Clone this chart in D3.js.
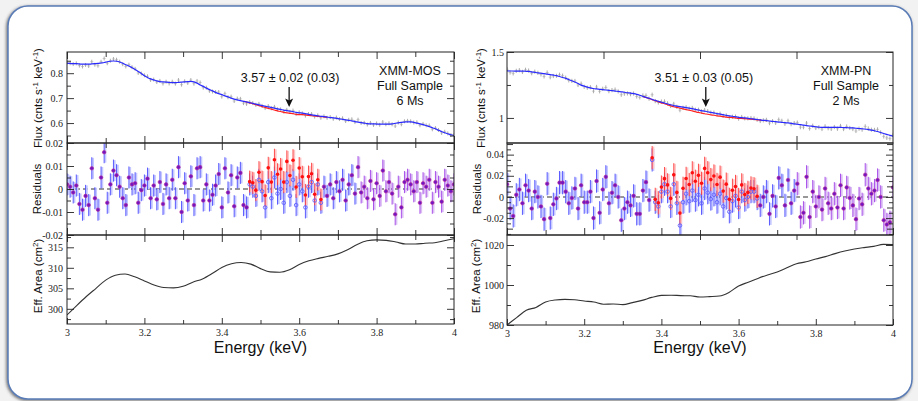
<!DOCTYPE html>
<html><head><meta charset="utf-8">
<script src="https://cdn.jsdelivr.net/npm/d3@7"></script>
<style>body{margin:0;background:#f2f2f2;}svg{display:block}</style>
</head><body>
<svg id="c" width="918" height="401"></svg>
<script>
// ---------------- DATA ----------------
const binEnergy = [
3.000,3.008,3.016,3.024,3.032,3.040,3.048,3.056,3.064,3.072,
3.080,3.088,3.096,3.104,3.112,3.120,3.128,3.136,3.144,3.152,
3.160,3.168,3.176,3.184,3.192,3.200,3.208,3.216,3.224,3.232,
3.240,3.248,3.256,3.264,3.272,3.280,3.288,3.296,3.304,3.312,
3.320,3.328,3.336,3.344,3.352,3.360,3.368,3.376,3.384,3.392,
3.400,3.408,3.416,3.424,3.432,3.440,3.448,3.456,3.464,3.472,
3.480,3.488,3.496,3.504,3.512,3.520,3.528,3.536,3.544,3.552,
3.560,3.568,3.576,3.584,3.592,3.600,3.608,3.616,3.624,3.632,
3.640,3.648,3.656,3.664,3.672,3.680,3.688,3.696,3.704,3.712,
3.720,3.728,3.736,3.744,3.752,3.760,3.768,3.776,3.784,3.792,
3.800,3.808,3.816,3.824,3.832,3.840,3.848,3.856,3.864,3.872,
3.880,3.888,3.896,3.904,3.912,3.920,3.928,3.936,3.944,3.952,
3.960,3.968,3.976,3.984,3.992,4.000];
const binWidth = 0.008;
const residUnit = 0.001;

// MOS: model flux (with line), residuals (milli), line profile, effective area
const mosFluxModel = [
0.840,0.839,0.838,0.838,0.837,0.836,0.836,0.836,0.837,0.838,
0.839,0.841,0.843,0.846,0.848,0.849,0.848,0.845,0.840,0.834,
0.829,0.822,0.815,0.807,0.799,0.790,0.783,0.777,0.773,0.769,
0.766,0.765,0.764,0.763,0.762,0.762,0.763,0.764,0.765,0.766,
0.767,0.765,0.760,0.753,0.747,0.740,0.734,0.729,0.723,0.718,
0.714,0.709,0.705,0.700,0.696,0.693,0.690,0.687,0.685,0.682,
0.679,0.676,0.673,0.670,0.668,0.665,0.663,0.660,0.657,0.655,
0.652,0.650,0.648,0.646,0.643,0.641,0.640,0.638,0.635,0.633,
0.631,0.629,0.627,0.626,0.624,0.622,0.621,0.619,0.617,0.615,
0.613,0.611,0.609,0.606,0.604,0.602,0.600,0.598,0.597,0.597,
0.596,0.596,0.596,0.596,0.596,0.597,0.599,0.601,0.603,0.604,
0.605,0.605,0.603,0.600,0.597,0.594,0.590,0.586,0.581,0.577,
0.571,0.566,0.561,0.557,0.553,0.550];
const mosResidMilli = [
2,1,-1.5,1.5,-6.5,-9,-3,-7,9,-4,
-9,5,16,-6,2,8,6,1,-4,-7,
5,2,2.5,-6,-0.5,1.5,4.5,-4,1.5,-4.5,
3,-6.5,2,-4,4,-4,9.5,-10,2.5,-5,
5.5,-7,9,9.5,-5,2,-5,-2.5,1.5,6.5,
-8,9,-1.5,6,-7.5,5,7,-7,-8,2,
1,-3,4,-1,-8,3,-4,5,-2,0,
-6,3,-3,4,-7,2,-1,-8,1,3,
-5,2,-6,1,-3,2,-4,3,-1,4,
-5,2,6,-2,9.5,-1.5,1,-4,3.5,-4.5,
2.5,-3,8,-1,3,-2,-11,1,-8,3,
4,2,-1,3,-6,2.5,1,4,-6,3,
1,-5.5,4,1.5,-1,2];
const mosLineStart = 57;
const mosLine = [0.0004,0.0007,0.0012,0.0017,0.0025,0.0033,0.0042,0.0052,0.0062,0.0070,
0.0077,0.0084,0.0087,0.0090,0.0090,0.0089,0.0085,0.0079,0.0071,0.0063,
0.0054,0.0044,0.0036,0.0027,0.0020,0.0014,0.0009,0.0005];
const mosResidErr = 0.0048;
const mosFluxErr = 0.008;

const pnFluxModel = [
1.357,1.356,1.356,1.355,1.355,1.355,1.354,1.353,1.350,1.346,
1.342,1.339,1.336,1.332,1.329,1.325,1.321,1.314,1.307,1.300,
1.291,1.282,1.272,1.261,1.249,1.241,1.234,1.228,1.223,1.220,
1.217,1.214,1.212,1.209,1.207,1.204,1.201,1.198,1.195,1.191,
1.188,1.184,1.179,1.172,1.164,1.156,1.149,1.141,1.133,1.126,
1.119,1.113,1.106,1.100,1.094,1.090,1.086,1.082,1.078,1.074,
1.070,1.065,1.060,1.056,1.051,1.047,1.042,1.038,1.033,1.029,
1.025,1.020,1.016,1.013,1.009,1.005,1.002,1.000,0.997,0.994,
0.991,0.988,0.985,0.982,0.980,0.977,0.974,0.972,0.969,0.967,
0.964,0.962,0.959,0.955,0.952,0.949,0.945,0.942,0.939,0.936,
0.933,0.930,0.928,0.928,0.928,0.928,0.928,0.928,0.928,0.927,
0.926,0.925,0.924,0.922,0.920,0.918,0.915,0.912,0.908,0.903,
0.897,0.890,0.882,0.875,0.868,0.862];
const pnResidMilli = [
12,-11,-18,2,7,-6,11,6,-11,5,
0,-9,-21,12.5,-20,-7,-1.5,13.5,13.5,5,
-6,-1,8,-11,11,-5,-5,5,-20,15,
-15,7,19,-6,4,11,0,-22,-11,-5,
-8,1,-16,-16,6,14,-3,35,-5,-9,
5,12,5,-9,12,-6,-27,-5,3,-4,
6,-3,2,-6,8,4,-2,2,-5,3,
-9,-1,-14,-4,1,-10,5,-3,0,5,
5,-1.5,-8,0,5,-16,1,-9,18,11,
-8,16,-6,6,12.5,-19,-15,19,-19,5,
-9,0,-12,8,-6,-11,3,-10,11,-11,
9,-1,-8,-21,-1.5,-7,21,8,3,6,
16,0,-22,-26,-24,9];
const pnLineStart = 44;
const pnLine = [0.0009,0.0012,0.0016,0.0021,0.0027,0.0035,0.0043,0.0053,0.0064,0.0076,
0.0089,0.0103,0.0117,0.0131,0.0145,0.0157,0.0168,0.0178,0.0184,0.0189,
0.0190,0.0189,0.0184,0.0178,0.0168,0.0157,0.0145,0.0131,0.0117,0.0103,
0.0089,0.0076,0.0064,0.0053,0.0043,0.0035,0.0027,0.0021,0.0016,0.0012,0.0009];
const pnResidErr = 0.011;
const pnFluxErr = 0.016;

const effEnergy = [3.000,3.025,3.050,3.075,3.100,3.125,3.150,3.175,3.200,3.225,
3.250,3.275,3.300,3.325,3.350,3.375,3.400,3.425,3.450,3.475,
3.500,3.525,3.550,3.575,3.600,3.625,3.650,3.675,3.700,3.725,
3.750,3.775,3.800,3.825,3.850,3.875,3.900,3.925,3.950,3.975,4.000];
const mosEffArea = [298.5,300.8,303.0,305.0,307.0,308.2,308.5,307.8,306.8,305.8,
305.2,305.1,305.5,306.5,307.3,308.6,310.1,311.0,311.3,310.9,
309.8,309.0,308.9,309.5,310.8,311.7,312.3,312.8,313.4,314.4,
315.7,316.6,316.8,316.7,316.3,315.8,315.8,316.0,316.1,316.6,317.1];
const pnEffArea = [980.0,983.7,987.4,988.8,991.5,992.5,992.8,992.6,992.0,991.5,
990.4,990.5,990.2,991.2,992.3,993.8,994.8,994.9,994.7,994.6,
994.0,994.2,994.5,996.3,999.5,1001.4,1003.3,1005.0,1006.5,1008.6,
1010.6,1011.6,1013.0,1014.2,1015.7,1017.0,1018.0,1018.7,1019.3,1020.3,1020.2];

const energyMajor = [3,3.2,3.4,3.6,3.8,4];
const energyMinor = [3.1,3.3,3.5,3.7,3.9];
const energyQuarter = [3.25,3.5,3.75];

const mosFluxTicks = [0.6,0.7,0.8], mosFluxMinor = [0.55,0.65,0.75,0.85];
const mosResTicks = [-0.02,-0.01,0,0.01,0.02], mosResMinor = [-0.015,-0.005,0.005,0.015];
const mosEffTicks = [300,305,310,315], mosEffMinor = [297.5,302.5,307.5,312.5,317.5];
const pnFluxTicks = [1,1.5], pnFluxMinor = [1.25];
const pnResTicks = [-0.02,0,0.02,0.04], pnResMid = [-0.03,-0.01,0.01,0.03,0.05];
const pnResMinor = [-0.035,-0.025,-0.015,-0.005,0.005,0.015,0.025,0.035,0.045];
const pnEffTicks = [980,1000,1020], pnEffMinor = [990,1010];

const mosLabel = ["XMM-MOS","Full Sample","6 Ms"];
const pnLabel = ["XMM-PN","Full Sample","2 Ms"];
const mosLineText = "3.57 \u00b1 0.02 (0.03)", mosLineE = 3.574;
const pnLineText = "3.51 \u00b1 0.03 (0.05)", pnLineE = 3.515;

// ---------------- DRAW ----------------
const SANS = "Liberation Sans, Arial, Helvetica, sans-serif";
const SERIF = "Liberation Serif, Times New Roman, serif";
const svg = d3.select("#c");
const defs = svg.append("defs");
const f = defs.append("filter").attr("id","sh").attr("x","-3%").attr("y","-3%").attr("width","106%").attr("height","106%");
f.append("feDropShadow").attr("dx",-1).attr("dy",1).attr("stdDeviation",1.8).attr("flood-color","#444").attr("flood-opacity",0.75);

svg.append("rect").attr("width",918).attr("height",401).attr("fill","#f2f2f2");
svg.append("rect").attr("x",8).attr("y",6).attr("width",904).attr("height",393).attr("rx",20)
  .attr("fill","#ffffff").attr("stroke","#5a7cb6").attr("stroke-width",1.5).attr("filter","url(#sh)");

function tickAxis(g, scale, orient, vals, len, pos, fmt, pad) {
  const fn = {bottom:d3.axisBottom, top:d3.axisTop, left:d3.axisLeft, right:d3.axisRight}[orient];
  const axis = fn(scale).tickValues(vals).tickSizeInner(-len).tickSizeOuter(0)
    .tickPadding(pad || 3).tickFormat(fmt || (() => ""));
  const tr = (orient === "bottom" || orient === "top") ? `translate(0,${pos})` : `translate(${pos},0)`;
  const a = g.append("g").attr("transform", tr).call(axis);
  a.select(".domain").remove();
  a.selectAll("line").attr("stroke","#222").attr("stroke-width",0.9);
  a.selectAll("text").attr("font-family",SERIF).attr("font-size",10).attr("fill","#222");
  return a;
}

function drawInstrument(o) {
  const g = svg.append("g");
  const x = d3.scaleLinear().domain([3,4]).range([o.left, o.right]);
  const T = 52, D1 = 143, D2 = 235, B = o.bottom;
  const yF = d3.scaleLinear().domain(o.fluxDomain).range([D1, T]);
  const yR = d3.scaleLinear().domain(o.resDomain).range([D2, D1]);
  const yE = d3.scaleLinear().domain(o.effDomain).range([B, D2]);

  const clip = (id, y0, y1) => {
    defs.append("clipPath").attr("id", id).append("rect")
      .attr("x", o.left).attr("y", y0).attr("width", o.right - o.left).attr("height", y1 - y0);
    return g.append("g").attr("clip-path", `url(#${id})`);
  };
  const gF = clip(o.id + "F", T, D1), gR = clip(o.id + "R", D1, D2), gE = clip(o.id + "E", D2, B);

  const pts = binEnergy.map((e, i) => {
    const li = i - o.lineStart;
    const l = (li >= 0 && li < o.line.length) ? o.line[li] : 0;
    const r = o.resid[i] * residUnit;
    return {e, i, l, r, rr: r + l, m: o.model[i], inWin: l > o.redThr, violet: e >= 3.75};
  });

  // ---- flux panel ----
  gF.selectAll(".fd").data(pts).join("line")
    .attr("x1", d => x(d.e)).attr("x2", d => x(d.e))
    .attr("y1", d => yF(d.m + d.r - o.fluxErr)).attr("y2", d => yF(d.m + d.r + o.fluxErr))
    .attr("stroke","#8a8a8a").attr("stroke-width",0.7);
  gF.selectAll(".fh").data(pts).join("line")
    .attr("x1", d => x(d.e - binWidth/2)).attr("x2", d => x(d.e + binWidth/2))
    .attr("y1", d => yF(d.m + d.r)).attr("y2", d => yF(d.m + d.r))
    .attr("stroke","#a0a0a0").attr("stroke-width",0.5);
  const win = pts.filter(d => d.i >= o.lineStart && d.i < o.lineStart + o.line.length);
  gF.append("path").datum(win)
    .attr("d", d3.line().x(d => x(d.e)).y(d => yF(d.m - d.l)).curve(d3.curveMonotoneX))
    .attr("fill","none").attr("stroke","#ff2020").attr("stroke-width",1.2);
  gF.append("path").datum(pts)
    .attr("d", d3.line().x(d => x(d.e)).y(d => yF(d.m)).curve(d3.curveMonotoneX))
    .attr("fill","none").attr("stroke","#2a2aff").attr("stroke-width",1.2);

  // ---- residual panel ----
  gR.append("line").attr("x1", o.left).attr("x2", o.right).attr("y1", yR(0)).attr("y2", yR(0))
    .attr("stroke","#333").attr("stroke-width",1.1).attr("stroke-dasharray","5,3");
  const er = o.resErr;
  gR.selectAll(".bb").data(pts).join("line")
    .attr("x1", d => x(d.e) + 1.2).attr("x2", d => x(d.e) + 1.2)
    .attr("y1", d => yR(d.r - er * 0.95)).attr("y2", d => yR(d.r + er * 0.95))
    .attr("stroke", d => d.violet ? "#dcc0f4" : "#c4c8ff").attr("stroke-width",2);
  gR.selectAll(".bl").data(pts).join("line")
    .attr("x1", d => x(d.e)).attr("x2", d => x(d.e))
    .attr("y1", d => yR(d.r - er)).attr("y2", d => yR(d.r + er))
    .attr("stroke", d => d.violet ? "#a040e8" : "#4a4aff").attr("stroke-width",0.9);
  const red = pts.filter(d => d.inWin);
  gR.selectAll(".rb").data(red).join("line")
    .attr("x1", d => x(d.e) + 1.2).attr("x2", d => x(d.e) + 1.2)
    .attr("y1", d => yR(d.rr - er * 0.95)).attr("y2", d => yR(d.rr + er * 0.95))
    .attr("stroke","#ffc4c4").attr("stroke-width",2);
  gR.selectAll(".rl").data(red).join("line")
    .attr("x1", d => x(d.e)).attr("x2", d => x(d.e))
    .attr("y1", d => yR(d.rr - er)).attr("y2", d => yR(d.rr + er))
    .attr("stroke","#ff3a3a").attr("stroke-width",0.9);
  gR.selectAll(".bc").data(red).join("circle")
    .attr("cx", d => x(d.e)).attr("cy", d => yR(d.r)).attr("r",1.8)
    .attr("fill","none").attr("stroke","#6060ff").attr("stroke-width",0.9);
  gR.selectAll(".rc").data(red).join("circle")
    .attr("cx", d => x(d.e)).attr("cy", d => yR(d.rr)).attr("r",1.8)
    .attr("fill","#ff1010");
  gR.selectAll(".pc").data(pts.filter(d => !d.inWin)).join("circle")
    .attr("cx", d => x(d.e)).attr("cy", d => yR(d.r)).attr("r",1.8)
    .attr("fill","#7014c4").attr("stroke","#c03090").attr("stroke-width",0.6);

  // ---- effective area ----
  gE.append("path").datum(o.eff)
    .attr("d", d3.line().x((d, i) => x(effEnergy[i])).y(d => yE(d)).curve(d3.curveMonotoneX))
    .attr("fill","none").attr("stroke","#333").attr("stroke-width",1.1);

  // ---- frames & ticks ----
  [[T, D1], [D1, D2], [D2, B]].forEach(([a, b]) => {
    g.append("rect").attr("x", o.left).attr("y", a).attr("width", o.right - o.left).attr("height", b - a)
      .attr("fill","none").attr("stroke","#222").attr("stroke-width",1);
  });
  const xfmt = d => String(+d.toFixed(1));
  const xTop = o.quarterFlux ? [[energyQuarter, 7]] : [[energyMajor, 7], [energyMinor, 5]];
  xTop.forEach(([v, l]) => { tickAxis(g, x, "top", v, l, T); tickAxis(g, x, "bottom", v, l, D1); });
  xTop.forEach(([v, l]) => tickAxis(g, x, "top", v, l, D1));
  [[energyMajor, 7], [energyMinor, 5]].forEach(([v, l]) => tickAxis(g, x, "bottom", v, l, D2));
  (o.quarterFlux ? [[energyQuarter, 5]] : [[energyMajor, 7], [energyMinor, 5]])
    .forEach(([v, l]) => tickAxis(g, x, "top", v, l, D2));
  tickAxis(g, x, "bottom", energyMinor, 4, B);
  tickAxis(g, x, "bottom", energyMajor, 6, B, xfmt, 5);

  const yAx = (scale, major, minor, fmt, mid) => {
    tickAxis(g, scale, "left", major, 7, o.left, fmt, o.ypad);
    tickAxis(g, scale, "right", major, 7, o.right);
    if (mid) { tickAxis(g, scale, "left", mid, 6, o.left); tickAxis(g, scale, "right", mid, 6, o.right); }
    tickAxis(g, scale, "left", minor, 4, o.left);
    tickAxis(g, scale, "right", minor, 4, o.right);
  };
  yAx(yF, o.fluxTicks, o.fluxMinor, d => String(d));
  yAx(yR, o.resTicks, o.resMinor, d => d === 0 ? "0" : d.toFixed(2), o.resMid);
  yAx(yE, o.effTicks, o.effMinor, d => String(d));

  const vt = (cx, cy) => g.append("text").attr("transform", `translate(${cx},${cy}) rotate(-90)`)
    .attr("text-anchor","middle").attr("font-family",SANS).attr("font-size",11.5).attr("fill","#111");
  const ft = vt(o.titleX[0], 98);
  ft.append("tspan").text("Flux (cnts s");
  ft.append("tspan").attr("dy",-4).attr("font-size",8).text("-1");
  ft.append("tspan").attr("dy",4).text(" keV");
  ft.append("tspan").attr("dy",-4).attr("font-size",8).text("-1");
  ft.append("tspan").attr("dy",4).text(")");
  vt(o.titleX[1], 189).text("Residuals");
  const et = vt(o.titleX[2], 276);
  et.append("tspan").text("Eff. Area (cm");
  et.append("tspan").attr("dy",-4).attr("font-size",8).text("2");
  et.append("tspan").attr("dy",4).text(")");

  g.append("text").attr("x", (o.left + o.right) / 2).attr("y", 353).attr("text-anchor","middle")
    .attr("font-family",SANS).attr("font-size",16).attr("fill","#111").text("Energy (keV)");

  o.label.forEach((s, i) => g.append("text").attr("x", o.labelX).attr("y", 75 + i * 14.8)
    .attr("text-anchor","middle").attr("font-family",SANS).attr("font-size",12.5).attr("fill","#111").text(s));

  const ax = x(o.lineE);
  g.append("text").attr("x", ax + o.textDx).attr("y", 82).attr("text-anchor","middle")
    .attr("font-family",SANS).attr("font-size",12.5).attr("fill","#111").text(o.lineText);
  g.append("line").attr("x1", ax).attr("x2", ax).attr("y1", 87).attr("y2", 104)
    .attr("stroke","#111").attr("stroke-width",1.3);
  g.append("path").attr("d", `M${ax},107 L${ax-4},98.5 L${ax},100.5 L${ax+4},98.5 Z`).attr("fill","#111");
}

drawInstrument({id:"mos", left:67, right:454, bottom:324,
  fluxDomain:[0.52,0.885], resDomain:[-0.02,0.02], effDomain:[296.3,318],
  model:mosFluxModel, resid:mosResidMilli, line:mosLine, lineStart:mosLineStart,
  resErr:mosResidErr, fluxErr:mosFluxErr, redThr:0.001, eff:mosEffArea,
  fluxTicks:mosFluxTicks, fluxMinor:mosFluxMinor, resTicks:mosResTicks, resMinor:mosResMinor,
  effTicks:mosEffTicks, effMinor:mosEffMinor, ypad:4, quarterFlux:false,
  titleX:[42,41,42], label:mosLabel, labelX:410, lineE:mosLineE, lineText:mosLineText, textDx:1});

drawInstrument({id:"pn", left:507, right:893, bottom:325,
  fluxDomain:[0.81,1.5], resDomain:[-0.036,0.051], effDomain:[980,1025],
  model:pnFluxModel, resid:pnResidMilli, line:pnLine, lineStart:pnLineStart,
  resErr:pnResidErr, fluxErr:pnFluxErr, redThr:0.002, eff:pnEffArea,
  fluxTicks:pnFluxTicks, fluxMinor:pnFluxMinor, resTicks:pnResTicks, resMinor:pnResMinor, resMid:pnResMid,
  effTicks:pnEffTicks, effMinor:pnEffMinor, ypad:3, quarterFlux:true,
  titleX:[485,481,480], label:pnLabel, labelX:846, lineE:pnLineE, lineText:pnLineText, textDx:-2});
</script>
</body></html>
